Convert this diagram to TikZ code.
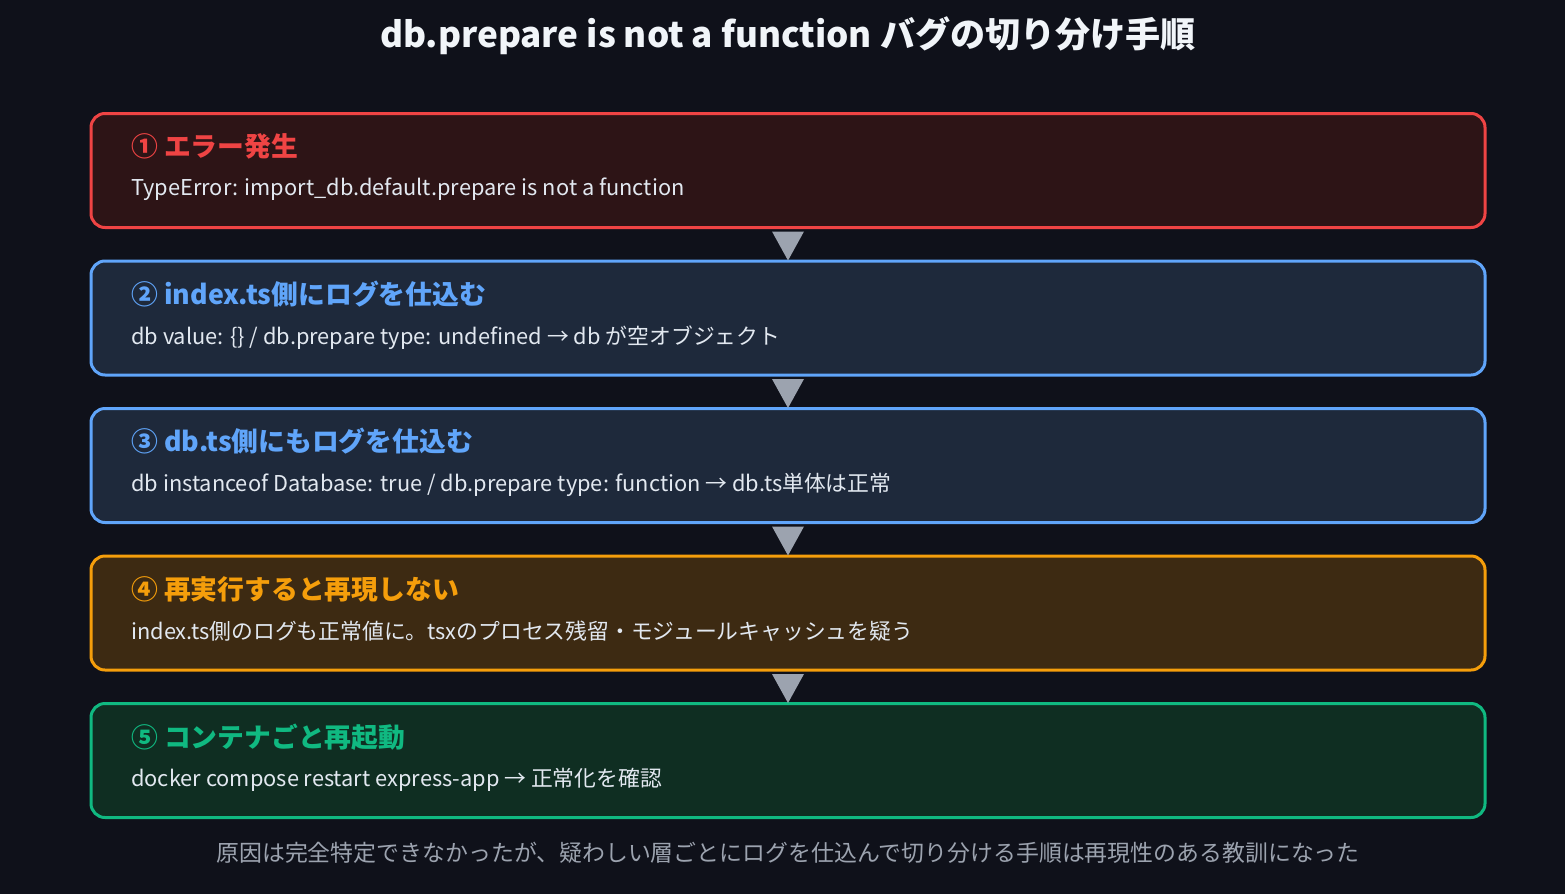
\documentclass[tikz,border=0pt]{standalone}
\usepackage{fontspec}
\setmainfont{Noto Sans CJK JP}
\newfontfamily\jpf{Noto Sans CJK JP}
\definecolor{bgc}{HTML}{0F111A}
\definecolor{titlec}{HTML}{F1F5F9}
\definecolor{bodyc}{HTML}{E2E8F0}
\definecolor{footc}{HTML}{9CA3AF}
\definecolor{arrc}{HTML}{9CA3AF}
\definecolor{redb}{HTML}{EF4444}\definecolor{redf}{HTML}{2D1416}
\definecolor{blueb}{HTML}{60A5FA}\definecolor{bluef}{HTML}{1E293B}
\definecolor{orab}{HTML}{F59E0B}\definecolor{oraf}{HTML}{3D2A12}
\definecolor{grnb}{HTML}{10B981}\definecolor{grnf}{HTML}{0F2E22}
\tikzset{
  stepbox/.style={draw, line width=3pt, rounded corners=14pt, minimum width=1394pt, minimum height=114pt, inner sep=0pt, anchor=center},
  headtxt/.style={anchor=west, inner sep=0pt, font=\jpf\bfseries\fontsize{26.8}{30}\selectfont},
  bodytxt/.style={anchor=west, inner sep=0pt, text=bodyc, font=\jpf\fontsize{21.8}{26}\selectfont},
  tri/.style={fill=arrc},
}
\begin{document}
\begin{tikzpicture}[x=1pt,y=-1pt]
\useasboundingbox[fill=bgc] (0,0) rectangle (1565,894);
\node[anchor=center, inner sep=0pt, text=titlec, font=\jpf\bfseries\fontsize{35.1}{40}\selectfont] (title) at (788,36) {db.prepare is not a function バグの切り分け手順};

\node[stepbox, draw=redb, fill=redf] (b1) at (788,170.5) {};
\node[stepbox, draw=blueb, fill=bluef] (b2) at (788,318) {};
\node[stepbox, draw=blueb, fill=bluef] (b3) at (788,465.5) {};
\node[stepbox, draw=orab, fill=oraf] (b4) at (788,613) {};
\node[stepbox, draw=grnb, fill=grnf] (b5) at (788,760.5) {};

\node[headtxt, text=redb] (h1) at (131,146) {① エラー発生};
\node[bodytxt] (t1) at (131,189.5) {TypeError: import\_db.default.prepare is not a function};
\node[headtxt, text=blueb] (h2) at (131,294) {② index.ts側にログを仕込む};
\node[bodytxt] (t2) at (131,337.5) {db value: \{\} / db.prepare type: undefined → db が空オブジェクト};
\node[headtxt, text=blueb] (h3) at (131,441) {③ db.ts側にもログを仕込む};
\node[bodytxt] (t3) at (131,484.5) {db instanceof Database: true / db.prepare type: function → db.ts単体は正常};
\node[headtxt, text=orab] (h4) at (131,589) {④ 再実行すると再現しない};
\node[bodytxt] (t4) at (131,631.5) {index.ts側のログも正常値に。tsxのプロセス残留・モジュールキャッシュを疑う};
\node[headtxt, text=grnb] (h5) at (131,737) {⑤ コンテナごと再起動};
\node[bodytxt] (t5) at (131,779.5) {docker compose restart express-app → 正常化を確認};

\foreach \a/\b in {b1/b2,b2/b3,b3/b4,b4/b5}{
  \fill[tri] ([xshift=-16pt,yshift=-2.5pt]\a.south) -- ([xshift=16pt,yshift=-2.5pt]\a.south) -- ([yshift=-1pt]\b.north) -- cycle;
}

\node[anchor=center, inner sep=0pt, text=footc, font=\jpf\fontsize{22.9}{27}\selectfont] (foot) at (788,853) {原因は完全特定できなかったが、疑わしい層ごとにログを仕込んで切り分ける手順は再現性のある教訓になった};
\end{tikzpicture}
\end{document}
